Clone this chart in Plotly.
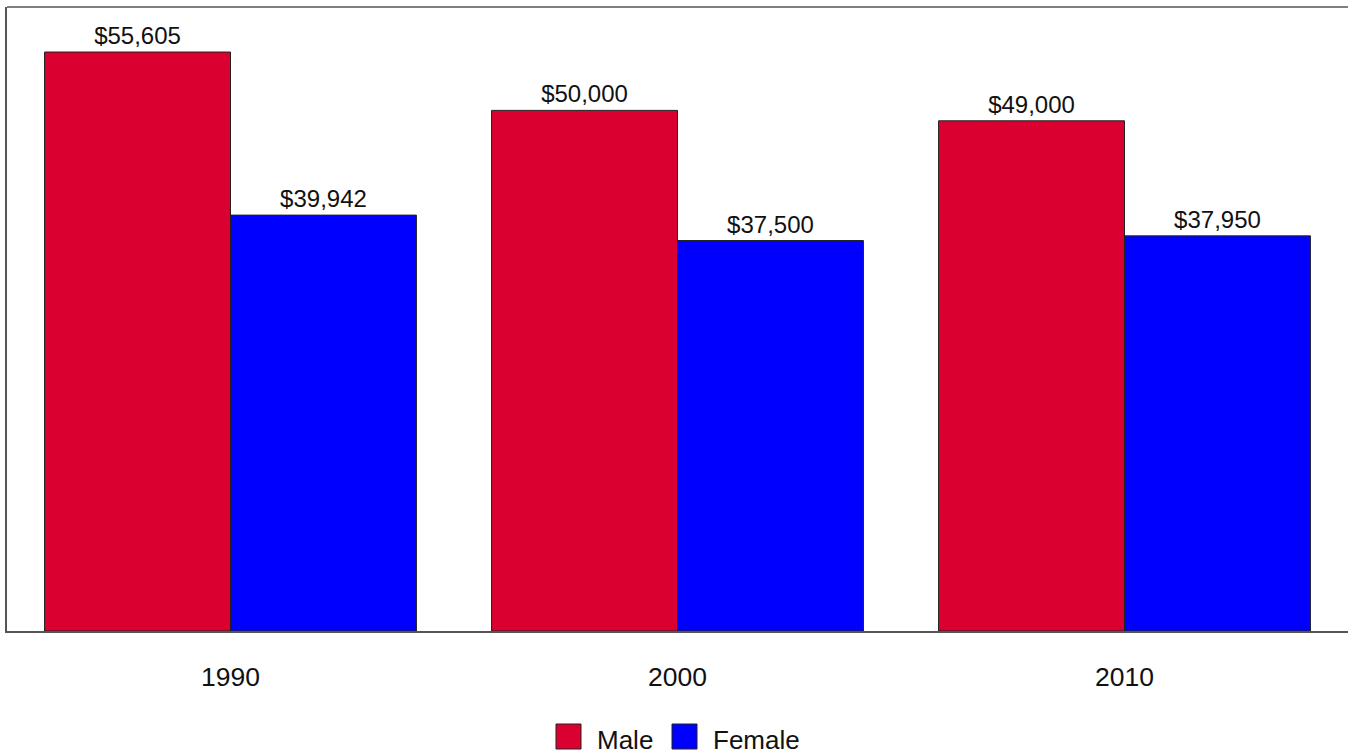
import plotly.graph_objects as go

years = ["1990", "2000", "2010"]
male = [55605, 50000, 49000]
female = [39942, 37500, 37950]
male_labels = ["$55,605", "$50,000", "$49,000"]
female_labels = ["$39,942", "$37,500", "$37,950"]
series_names = ["Male", "Female"]
series_colors = ["#DA002F", "#0000FF"]

FONT = "Liberation Sans, Arial, sans-serif"
W, H = 1348, 754
ML, MR, MT, MB = 7, 0, 7, 123
PW, PH = W - ML - MR, H - MT - MB


def px_x(p):
    return (p - ML) / PW


def px_y(p):
    return (H - MB - p) / PH


fig = go.Figure()
for name, vals, labels, color in [
    (series_names[0], male, male_labels, series_colors[0]),
    (series_names[1], female, female_labels, series_colors[1]),
]:
    fig.add_trace(go.Bar(
        name=name, x=years, y=vals, text=labels,
        textposition="outside", cliponaxis=False, showlegend=False,
        marker=dict(color=color, line=dict(color="#222222", width=1)),
        textfont=dict(size=24, color="#111111", family=FONT),
    ))

# manual legend (large square swatches like the reference)
shapes = [dict(type="line", xref="paper", yref="paper", x0=0, x1=1, y0=1, y1=1,
               line=dict(color="#555555", width=1.5))]
annotations = []
legend_items = [(556, 595), (672, 711)]
for (sx, tx), name, color in zip(legend_items, series_names, series_colors):
    shapes.append(dict(type="rect", xref="paper", yref="paper",
                       x0=px_x(sx), x1=px_x(sx + 25), y0=px_y(724), y1=px_y(749),
                       fillcolor=color, line=dict(color="#222222", width=1)))
    annotations.append(dict(text=name, xref="paper", yref="paper",
                            x=px_x(tx), y=px_y(740), xanchor="left", yanchor="middle",
                            showarrow=False,
                            font=dict(size=26, family=FONT, color="#111111")))

fig.update_layout(
    width=W, height=H,
    margin=dict(l=ML, r=MR, t=MT, b=MB),
    paper_bgcolor="white", plot_bgcolor="white",
    barmode="group", bargap=0.168, bargroupgap=0,
    font=dict(family=FONT, size=24, color="#111111"),
    showlegend=False,
    xaxis=dict(showline=True, linecolor="#555555", linewidth=1.5, showgrid=False,
               ticks="", tickfont=dict(size=26.5, family=FONT, color="#111111"),
               ticklabelstandoff=21, range=[-0.5, 2.5]),
    yaxis=dict(showline=True, linecolor="#555555", linewidth=1.5, showgrid=False,
               showticklabels=False, ticks="", range=[0, 59930], zeroline=False),
    shapes=shapes,
    annotations=annotations,
)

fig.write_html(
    "out.html",
    config={"displayModeBar": False},
    post_script="document.body.style.margin='0';document.documentElement.style.overflow='hidden';",
)
